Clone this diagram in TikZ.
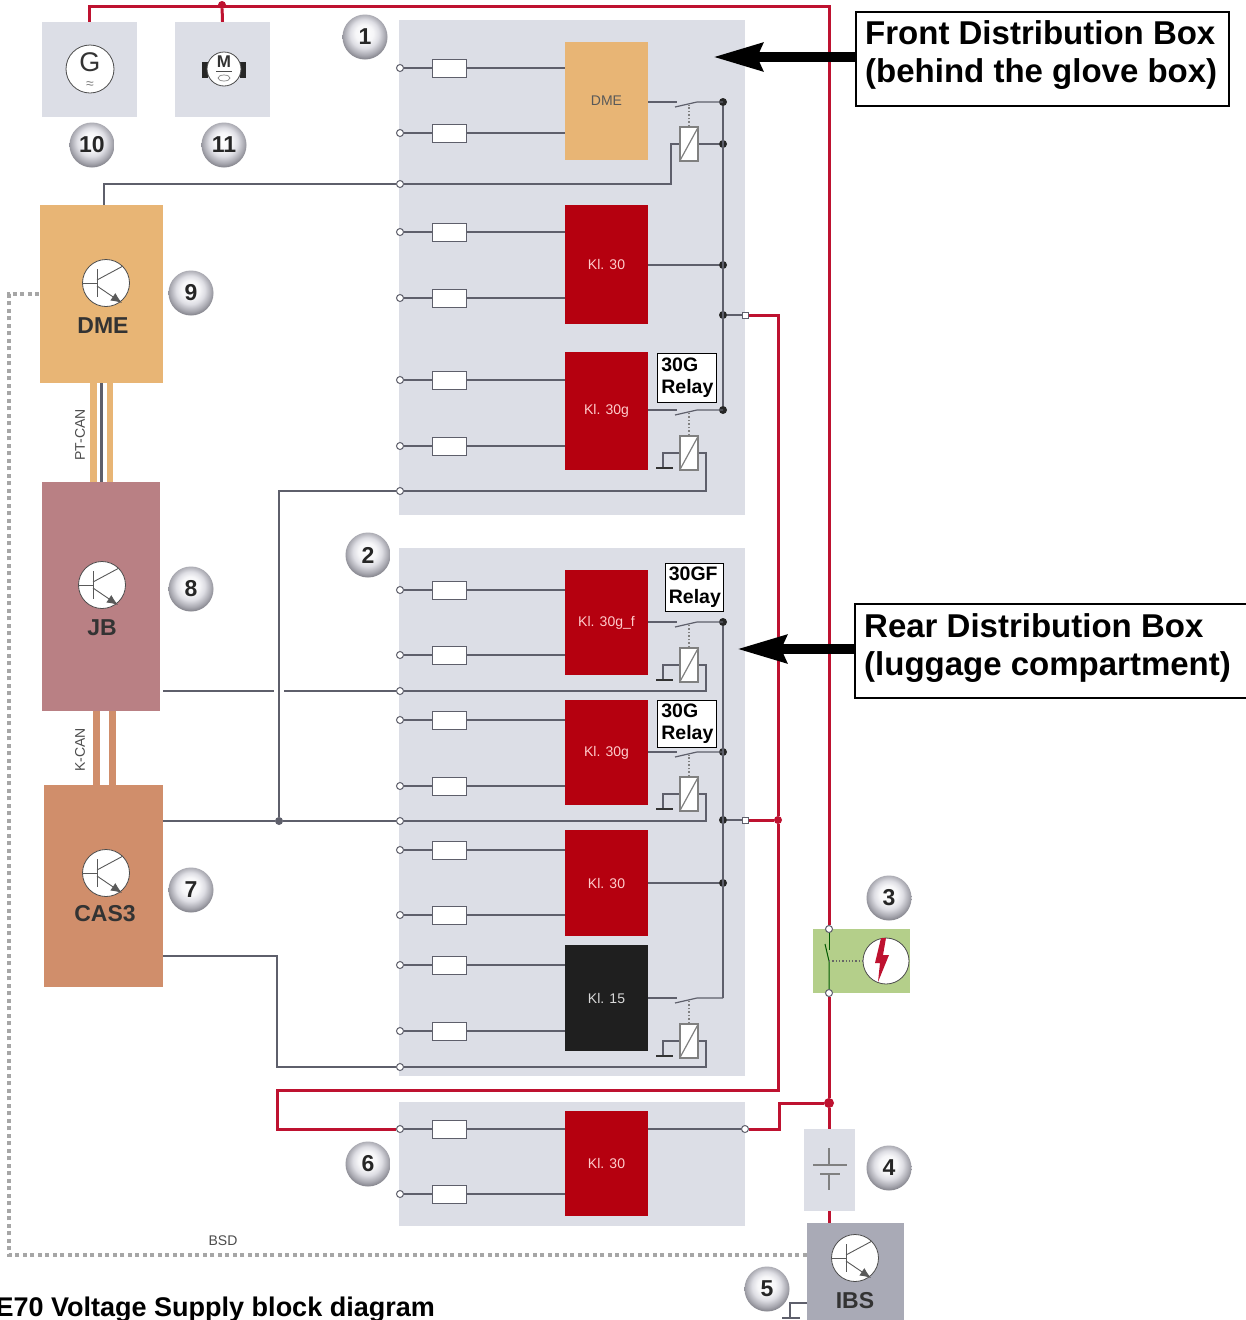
\documentclass[tikz,border=0pt]{standalone}
\usepackage{fontspec}
\setmainfont{Liberation Sans}
\usetikzlibrary{arrows.meta}
\definecolor{panelgray}{HTML}{DCDEE6}
\definecolor{klred}{HTML}{B5000F}
\definecolor{wirered}{HTML}{BE1230}
\definecolor{dmetan}{HTML}{E8B575}
\definecolor{jbrose}{HTML}{B98084}
\definecolor{castan}{HTML}{D08E6B}
\definecolor{ibsgray}{HTML}{A9AAB6}
\definecolor{swgreen}{HTML}{B4CF8A}
\definecolor{ctrlgray}{HTML}{5E5F6B}
\definecolor{ballc}{HTML}{F6F6F8}
\definecolor{balld}{HTML}{DEDEE4}
\definecolor{balle}{HTML}{A8A8B0}
\definecolor{ballf}{HTML}{7A7A82}
\pgfdeclareradialshading{badgeball}{\pgfpoint{-1bp}{5bp}}{color(0bp)=(white); color(10bp)=(ballc); color(16bp)=(balld); color(23bp)=(balle); color(28bp)=(ballf); color(50bp)=(ballf)}
\tikzset{
  boxfill/.style={fill=panelgray,inner sep=0pt,minimum width=#1},
  panel/.style={fill=panelgray,inner sep=0pt,minimum width=346pt},
  block/.style={inner sep=0pt,minimum width=83pt,font=\fontsize{14}{16}\selectfont},
  ecu/.style={inner sep=0pt,minimum width=120pt},
  term/.style={circle,draw=ctrlgray,fill=white,line width=1pt,inner sep=0pt,minimum size=7pt},
  termsq/.style={rectangle,draw=ctrlgray,fill=white,line width=1pt,inner sep=0pt,minimum size=6pt},
  fuse/.style={draw=ctrlgray,fill=white,line width=1pt,inner sep=0pt,minimum width=34pt,minimum height=18pt},
  coil/.style={draw=gray,fill=white,line width=1.2pt,inner sep=0pt,minimum width=18pt,minimum height=34pt},
  wiredot/.style={circle,fill=#1,inner sep=0pt,minimum size=8pt},
  thinwire/.style={draw=ctrlgray,line width=1.2pt},
  ctrlwire/.style={draw=ctrlgray,line width=2.8pt},
  redwire/.style={draw=wirered,line width=3pt},
  badge/.style={circle,shading=badgeball,inner sep=0pt,minimum size=45pt,font=\fontsize{23}{25}\selectfont\bfseries,text=black!85},
  trans/.style={circle,draw=black!70,fill=white,line width=.8pt,inner sep=0pt,minimum size=47pt},
  transline/.style={draw=black!65,line width=.9pt},
  ecutext/.style={font=\fontsize{23}{25}\selectfont\bfseries,text=black!80},
  smalltext/.style={font=\fontsize{14}{16}\selectfont,text=black!70},
  callout/.style={draw=black,fill=white,line width=2pt,anchor=north west,inner sep=0pt},
  calltext/.style={anchor=west,align=left,inner sep=0pt,font=\fontsize{33}{38}\selectfont\bfseries},
  relaytag/.style={draw=black,fill=white,line width=.8pt,anchor=north west,align=left,inner sep=0pt,font=\fontsize{19.5}{22.5}\selectfont\bfseries},
  bigarrow/.style={line width=10pt,-{Stealth[length=49pt,width=27pt,inset=5pt]}}
}
\begin{document}
\begin{tikzpicture}[x=1pt,y=-1pt]
\clip (0,0) rectangle (1246,1320);
\fill[white] (0,0) rectangle (1246,1320);
% grey panels
\node[panel,minimum height=495pt] (pfront) at (572,267.5) {};
\node[panel,minimum height=528pt] (prear) at (572,812) {};
\node[panel,minimum height=124pt] (pbat) at (572,1164) {};
\node[boxfill=95pt,minimum height=95pt] (gen) at (89.5,69.5) {};
\node[boxfill=95pt,minimum height=95pt] (mot) at (222.5,69.5) {};
% blocks in the panels
\node[block,fill=dmetan,minimum height=118pt,text=black!65] (bdme) at (606.5,101) {DME};
\node[block,fill=klred,minimum height=119pt,text=red!20] (bkla) at (606.5,264.5) {Kl. 30};
\node[block,fill=klred,minimum height=118pt,text=red!20] (bklb) at (606.5,411) {Kl. 30g};
\node[block,fill=klred,minimum height=105pt,text=red!20] (bklc) at (606.5,622.5) {Kl. 30g\_f};
\node[block,fill=klred,minimum height=105pt,text=red!20] (bkld) at (606.5,752.5) {Kl. 30g};
\node[block,fill=klred,minimum height=106pt,text=red!20] (bkle) at (606.5,883) {Kl. 30};
\node[block,fill=black!88,minimum height=106pt,text=white!85!black] (bklf) at (606.5,998) {Kl. 15};
\node[block,fill=klred,minimum height=105pt,text=red!20] (bklg) at (606.5,1163.5) {Kl. 30};
% control units
\node[ecu,fill=dmetan,minimum width=123pt,minimum height=178pt] (ecu) at (101.5,294) {};
\node[ecu,fill=jbrose,minimum width=118pt,minimum height=229pt] (jb) at (101,596.5) {};
\node[ecu,fill=castan,minimum width=119pt,minimum height=202pt] (cas) at (103.5,886) {};
\node[ecu,fill=ibsgray,minimum width=97pt,minimum height=97pt] (ibs) at (855.5,1271.5) {};
\node[ecutext] (ldme) at (103,326) {DME};
\node[ecutext] (ljb) at (102,628) {JB};
\node[ecutext] (lcas) at (105,914) {CAS3};
\node[ecutext] (libs) at (855,1301) {IBS};
% transistor symbols
\foreach \id/\x/\y in {ecu/106/283,jb/102/585,cas/106/873,ibs/855/1258} {
  \node[trans] (tr\id) at (\x,\y) {};
  \draw[transline] (tr\id.west) -- (\x-9,\y);
  \draw[transline] (\x-9,\y-14) -- (\x-9,\y+14);
  \draw[transline] (\x-9,\y-3) -- (tr\id.north east);
  \draw[transline,-{Latex[length=11pt,width=9pt]}] (\x-9,\y+3) -- (\x+16,\y+20);
}
% fused inputs
\foreach \y/\blk in {68/bdme,133/bdme,232/bkla,298/bkla,380/bklb,446/bklb,590/bklc,655/bklc,720/bkld,786/bkld,850/bkle,915/bkle,965/bklf,1031/bklf,1129/bklg,1194/bklg} {
  \node[term] (t\y) at (400,\y) {};
  \node[fuse] (f\y) at (449,\y) {};
  \draw[thinwire] (t\y) -- (f\y) -- (f\y -| \blk.west);
}
% terminals without fuse
\foreach \y in {184,491,691,821,1067} {
  \node[term] (t\y) at (400,\y) {};
}
\node[termsq] (ta) at (745,315) {};
\node[termsq] (tb) at (745,820) {};
\node[term] (tc) at (745,1129) {};
% bus bars
\foreach \y in {102,144,265,315,410,622,752,820,883} {
  \node[wiredot=black!85] (d\y) at (723,\y) {};
}
\coordinate (busend) at (723,998);
\draw[thinwire] (d102) -- (d410);
\draw[thinwire] (d622) -- (busend);
\draw[thinwire] (bkla.east |- d265) -- (d265);
\draw[thinwire] (bkle.east |- d883) -- (d883);
\draw[thinwire] (d315) -- (ta);
\draw[thinwire] (d820) -- (tb);
\draw[thinwire] (bklg.east |- tc) -- (tc);
% relays: contact, coil
\foreach \rl/\blk/\sy/\cy in {a/bdme/102/144,b/bklb/410/453,c/bklc/622/665,d/bkld/752/794,f/bklf/998/1041} {
  \node[coil] (coil\rl) at (689,\cy) {};
  \draw[draw=gray,line width=1.2pt,shorten >=2pt,shorten <=2pt] (coil\rl.south west) -- (coil\rl.north east);
  \coordinate (ca\rl) at (677,\sy);
  \coordinate (cb\rl) at (697,\sy);
  \draw[thinwire] (\blk.east |- ca\rl) -- (ca\rl);
  \draw[thinwire] (675,\sy+5) -- (cb\rl) -- (723,\sy);
  \draw[draw=gray,line width=1.5pt,dotted] (coil\rl.north) -- (689,\sy+3);
}
% relay coil return
\foreach \rl/\cy/\ty in {b/453/491,c/665/691,d/794/821,f/1041/1067} {
  \coordinate (cx\rl) at (706,\ty);
  \coordinate (cg\rl) at (663,\cy+15);
  \draw[thinwire] (coil\rl.east) -| (cx\rl) -- (t\ty);
  \draw[thinwire] (coil\rl.west) -| (cg\rl);
  \draw[draw=black!80,line width=1.5pt] (656,\cy+15) -- (673,\cy+15);
}
\coordinate (cq) at (671,144);
\draw[ctrlwire] (t184) -| (cq) -- (coila.west);
\draw[ctrlwire] (coila.east) -- (d144);
% control wires
\node[wiredot=ctrlgray] (dg) at (279,821) {};
\coordinate (cr) at (277,956);
\coordinate (gapl) at (274,691);
\coordinate (gapr) at (284,691);
\draw[ctrlwire] ([xshift=2.5pt]ecu.north) |- (t184);
\draw[ctrlwire] ([xshift=3pt]jb.east |- t691) -- (gapl);
\draw[ctrlwire] (gapr) -- (t691);
\draw[ctrlwire] (cas.east |- dg) -- (dg) -- (t821);
\draw[ctrlwire] (dg) |- (t491);
\draw[ctrlwire] (cas.east |- cr) -- (cr) |- (t1067);
% bus lines between units
\foreach \id/\x/\w/\col in {pa/93/7/dmetan,pb/110/6/dmetan,pc/101/3/ctrlgray} {
  \coordinate (can\id) at (\x,0);
  \draw[line width=\w pt,draw=\col] (can\id |- ecu.south) -- (can\id |- jb.north);
}
\foreach \id/\x in {ka/96,kb/112} {
  \coordinate (can\id) at (\x,0);
  \draw[line width=7pt,draw=castan] (can\id |- jb.south) -- (can\id |- cas.north);
}
\node[smalltext,rotate=90] (lpt) at (80,435) {PT-CAN};
\node[smalltext,rotate=90] (lk) at (80,750) {K-CAN};
% BSD
\coordinate (bsa) at (9,1255);
\coordinate (bsb) at (9,294);
\draw[draw=gray!70,line width=3.5pt,dash pattern=on 4pt off 3.5pt] (ibs.west |- bsa) -- (bsa) -- (bsb) -- (ecu.west |- bsb);
\node[smalltext] (lbsd) at (223,1241) {BSD};
% safety switch
\node[boxfill=97pt,fill=swgreen,minimum height=64pt] (sw) at (861.5,961) {};
\node[circle,draw=black!70,fill=white,line width=.8pt,inner sep=0pt,minimum size=46pt] (swc) at (886,961) {};
\fill[wirered] (881,938) -- (886,938) -- (883,955) -- (889,955) -- (878,982) -- (880,963) -- (875,963) -- cycle;
% battery
\node[boxfill=51pt,fill=panelgray,minimum height=82pt] (bat) at (829.5,1170) {};
\draw[draw=gray,line width=1.2pt] (829,1148) -- (829,1165);
\draw[draw=gray,line width=1.2pt] (813,1165) -- (847,1165);
\draw[draw=gray,line width=1.2pt] (820,1174) -- (840,1174);
\draw[draw=gray,line width=1.2pt] (829,1174) -- (829,1190);
% supply
\node[wiredot=wirered] (dm) at (222,5) {};
\node[wiredot=wirered,minimum size=10pt] (da) at (829,1103) {};
\node[wiredot=wirered] (dr) at (778,820) {};
\coordinate (ctop) at (829,6);
\coordinate (crb) at (778,1090);
\coordinate (crc) at (277,1090);
\coordinate (crd) at (779,1103);
\node[term] (sa) at (829,929) {};
\node[term] (sb) at (829,993) {};
\draw[redwire] (gen.north) |- (ctop) -- (sa);
\draw[redwire] (dm) -- (mot.north);
\draw[redwire] (sb) -- (da) -- (da |- bat.north);
\draw[redwire] (da |- bat.south) -- (da |- ibs.north);
\draw[redwire] (ta) -| (dr);
\draw[redwire] (tb) -- (dr) -- (crb) -- (crc) |- (t1129);
\draw[redwire] (tc) -| (crd) -- (da);
% switch inside the green box
\coordinate (sm) at (829,961);
\draw[draw=green!35!black,line width=1pt] (sa) -- (829,950);
\draw[draw=green!35!black,line width=1pt] (825,944) -- (sm) -- (sb);
\draw[draw=black!60,line width=1.3pt,dotted] (sm) -- (swc);
% generator and motor
\node[circle,draw=black!70,fill=white,line width=.8pt,inner sep=0pt,minimum size=48pt] (gsym) at (90,69) {};
\node[inner sep=0pt,font=\fontsize{27}{28}\selectfont,text=black!80] (lg) at (90,62) {G};
\node[inner sep=0pt,font=\fontsize{14}{14}\selectfont,text=gray] (lgw) at (90,85) {≈};
\fill[black!85] (202,62) rectangle (208,78);
\fill[black!85] (240,62) rectangle (246,78);
\node[circle,draw=black!70,fill=white,line width=.8pt,inner sep=0pt,minimum size=34pt] (msym) at (224,69) {};
\node[font=\fontsize{17}{18}\selectfont\bfseries,text=black!80] (lm) at (224,62) {M};
\draw[draw=black!70,line width=.8pt] (216,71) -- (232,71);
\draw[draw=gray,line width=.7pt] (224,78) ellipse (6 and 3);
% number badges
\foreach \num/\x/\y in {1/365/37,2/368/555,3/889/898,4/889/1168,5/767/1289,6/368/1164,7/191/890,8/191/589,9/191/293,10/92/145,11/224/145} {
  \node[badge] (n\num) at (\x,\y) {\num};
}
% IBS ground
\coordinate (ig) at (790,1303);
\draw[thinwire] (ibs.west |- ig) -- (ig) -- (790,1318);
\draw[thinwire] (782,1318) -- (800,1318);
% relay tags
\node[relaytag,minimum width=59pt,minimum height=49pt] (tagb) at (657,353) {\hspace{1pt}30G\\\hspace{1pt}Relay};
\node[relaytag,minimum width=58pt,minimum height=48pt] (tagc) at (665,563) {\hspace{1pt}30GF\\\hspace{1pt}Relay};
\node[relaytag,minimum width=59pt,minimum height=47pt] (tagd) at (657,700) {\hspace{1pt}30G\\\hspace{1pt}Relay};
% callouts
\node[callout,minimum width=373pt,minimum height=94pt] (fbox) at (855,11) {};
\node[callout,minimum width=392pt,minimum height=94pt] (rbox) at (854,603) {};
\node[calltext] (ftxt) at (865,55) {Front Distribution Box\\(behind the glove box)};
\node[calltext] (rtxt) at (864,648) {Rear Distribution Box\\(luggage compartment)};
\coordinate (arf) at (713,57);
\coordinate (arr) at (737,649);
\draw[bigarrow] (fbox.west |- arf) -- (arf);
\draw[bigarrow] (rbox.west |- arr) -- (arr);
% caption
\node[anchor=base east,inner sep=0pt,font=\fontsize{27}{29}\selectfont\bfseries] (cap) at (435,1316) {E70 Voltage Supply block diagram};
\end{tikzpicture}
\end{document}
